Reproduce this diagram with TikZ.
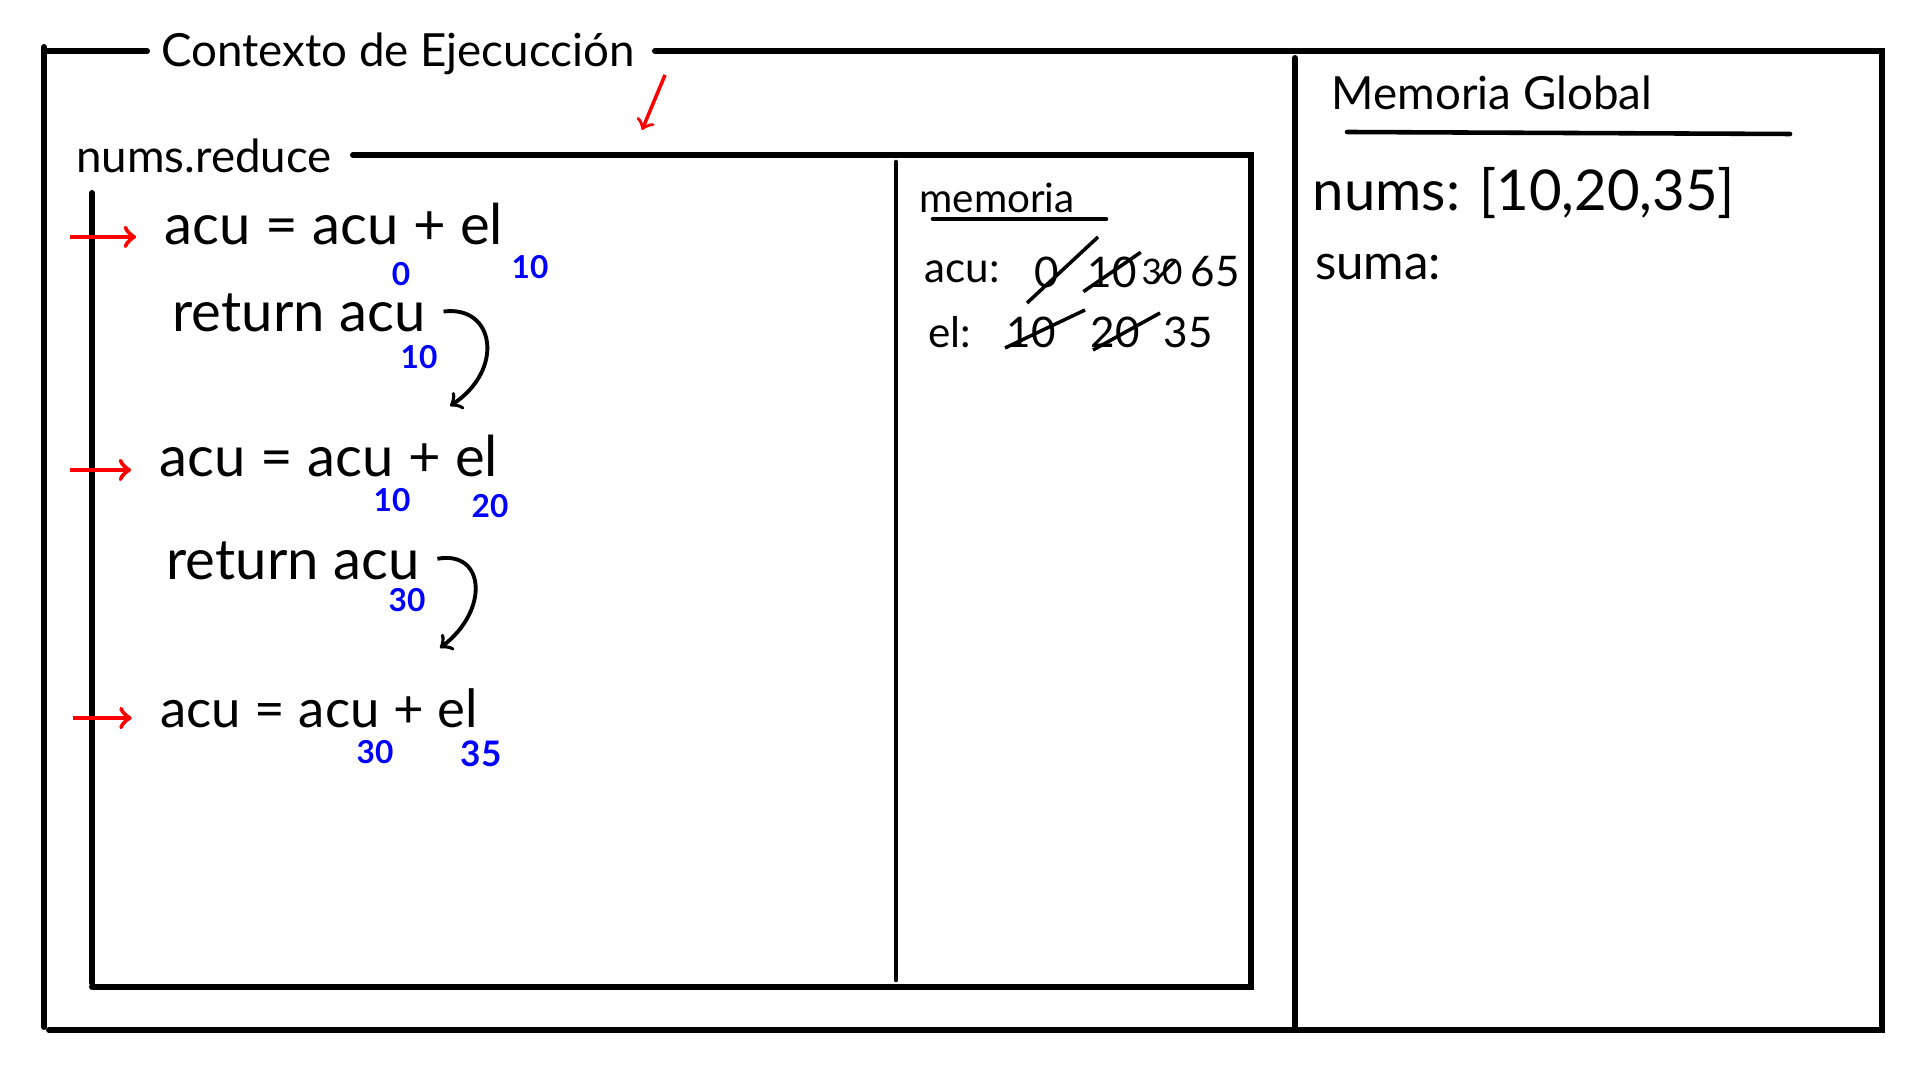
\documentclass[tikz,border=0pt]{standalone}
\usepackage{amsmath, amssymb, tikz}
\usepackage{fontspec}
\setmainfont{Lato}

\begin{document}
\begin{tikzpicture}[scale=0.1,
        frame/.style={line width=1.7pt, line cap=round},
        hand/.style={font=\fontsize{16}{19}\selectfont, anchor=base, inner sep=1pt},
        small/.style={font=\fontsize{12}{14}\selectfont, inner sep=1pt},
        sub/.style={blue, inner sep=1pt, font=\bfseries\fontsize{9}{10}\selectfont},
        redarrow/.style={->, red, line width=1.3pt, shorten >=7pt},
        backarrow/.style={->, line width=1.1pt, shorten <=4pt}]
        \useasboundingbox (0,0) rectangle (192,108);
        \draw[frame] (4.4,102.9) -- (14.7,102.9);
        \draw[frame] (65.5,102.9) -- (188.2,102.9) -- (188.2,5.0) -- (4.9,5.0);
        \draw[frame] (4.4,103.3) -- (4.4,5.3);
        \draw[frame] (129.5,102.2) -- (129.5,5.0);
        \draw[frame] (35.3,92.5) -- (125.1,92.5) -- (125.1,9.3) -- (9.2,9.3);
        \draw[frame] (9.2,88.7) -- (9.2,9.7);
        \draw[frame, line width=1.3pt] (89.6,91.8) -- (89.6,10.0);
        \node (title) at (39.8,102.6) {\fontsize{13}{16}\selectfont Contexto de Ejecucción};
        \coordinate (c1) at (66.5,100.5);
        \coordinate (c2) at (64.2,95.0);
        \draw[->, red, line width=1pt] (c1) -- (c2);
        \node (reduce) at (20.4,92.4) {\fontsize{13}{16}\selectfont nums.reduce};
        \node (eq1) [hand] at (33.4,83.5) {acu = acu + el};
        \node (eq1a) [sub] at (40.1,80.6) {0};
        \node (eq1b) [sub] at (53.0,81.3) {10};
        \node (ret1) [hand] at (29.9,74.8) {return acu};
        \node (ret1a) [sub] at (41.9,72.3) {10};
        \node (eq2) [hand] at (32.9,60.3) {acu = acu + el};
        \node (eq2a) [sub] at (39.2,58.0) {10};
        \node (eq2b) [sub] at (49.0,57.4) {20};
        \node (ret2) [hand] at (29.3,50.0) {return acu};
        \node (ret2a) [sub] at (40.7,48.0) {30};
        \node (eq3) [hand, font=\fontsize{15}{18}\selectfont] at (31.9,35.3) {acu = acu + el};
        \node (eq3a) [sub] at (37.5,32.8) {30};
        \node (eq3b) [sub, font=\bfseries\fontsize{10}{11}\selectfont] at (48.1,32.6) {35};
        \coordinate (r1) at (7.0,84.3);
        \coordinate (r2) at (7.0,61.0);
        \coordinate (r3) at (7.3,36.2);
        \draw[redarrow] (r1) -- (eq1.west |- r1);
        \draw[redarrow] (r2) -- (eq2.west |- r2);
        \draw[redarrow] (r3) -- (eq3.west |- r3);
        \coordinate (t1) at (45.0,67.4);
        \coordinate (t2) at (44.0,43.2);
        \draw[backarrow] (ret1.east) .. controls (49.5,77.5) and (50.5,71.0) .. (t1);
        \draw[backarrow] (ret2.east) .. controls (48.5,53.0) and (49.0,47.0) .. (t2);
        \node (mem) at (99.7,88.2) {\fontsize{11.5}{13}\selectfont memoria};
        \draw[line width=1.3pt, line cap=round] (93.3,86.1) -- (110.6,86.1);
        \node (acu) [small] at (96.2,80.8) {acu:};
        \node (acu0) [small] at (104.7,80.8) {0};
        \node (acu1) [small] at (111.2,80.8) {10};
        \node (acu2) [small, font=\fontsize{10}{12}\selectfont] at (116.2,80.8) {30};
        \node (acu3) [small] at (121.5,80.8) {65};
        \node (el) [small] at (95.0,74.8) {el:};
        \node (el0) [small] at (103.1,74.8) {10};
        \node (el1) [small] at (111.5,74.8) {20};
        \node (el2) [small] at (118.8,74.8) {35};
        \draw[line width=1pt] (102.7,77.7) -- (109.8,84.3);
        \draw[line width=1pt] (acu1.south west) -- (acu1.north east);
        \draw[line width=0.8pt] (115.4,79.8) -- (117.6,82.0);
        \draw[line width=1pt] (100.5,73.2) -- (108.5,77.0);
        \draw[line width=1pt] (109.3,73.0) -- (116.0,76.7);
        \node (glob) at (149.2,98.7) {\fontsize{13}{16}\selectfont Memoria Global};
        \draw[line width=1.3pt, line cap=round] (134.7,94.8) -- (179.0,94.6);
        \node (nums) at (152.4,88.7) {\fontsize{16}{19}\selectfont nums: [10,20,35]};
        \node (suma) at (137.8,81.3) {\fontsize{14}{16}\selectfont suma:};
    \end{tikzpicture}
\end{document}
